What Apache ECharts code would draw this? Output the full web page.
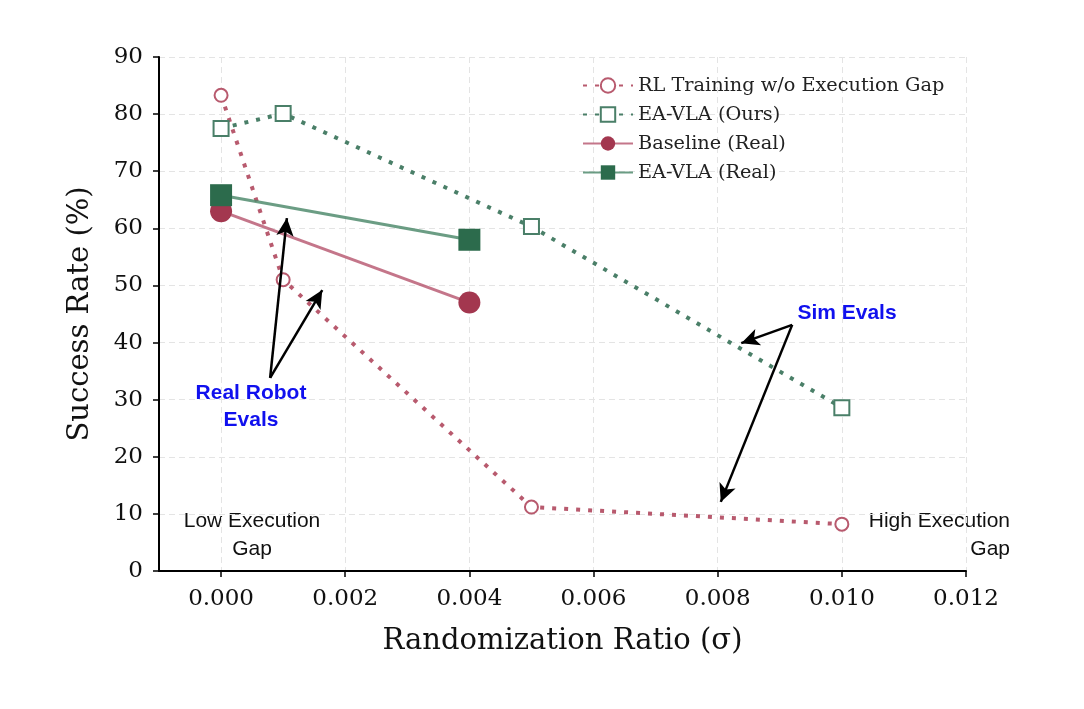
<!DOCTYPE html>
<html>
<head>
<meta charset="utf-8">
<script src="https://cdn.jsdelivr.net/npm/echarts@6/dist/echarts.min.js"></script>
<style>
  html, body { margin: 0; padding: 0; background: #fff; }
  #chart { width: 1084px; height: 709px; }
</style>
</head>
<body>
<div id="chart"></div>
<script>
// data
const xTicks = [0, 0.002, 0.004, 0.006, 0.008, 0.010, 0.012];
const yTicks = [0, 10, 20, 30, 40, 50, 60, 70, 80, 90];

const rlX = [0, 0.001, 0.005, 0.010];
const rlY = [83.3, 51.0, 11.2, 8.2];
const oursX = [0, 0.001, 0.005, 0.010];
const oursY = [77.5, 80.1, 60.3, 28.6];
const baseRealX = [0, 0.004];
const baseRealY = [63.0, 47.0];
const oursRealX = [0, 0.004];
const oursRealY = [65.8, 58.0];

// annotation arrows in data units: [from, to]
const realArrows = [[[0.00079, 33.8], [0.00106, 61.8]], [[0.00079, 33.8], [0.00163, 49.2]]];
const simArrows = [[[0.0092, 43.1], [0.00838, 39.9]], [[0.0092, 43.1], [0.00805, 12.1]]];

const pair = (xs, ys) => xs.map((x, i) => [x, ys[i]]);

const RED = '#b85a6e', RED_DARK = '#a3374f';
const GRN = '#4a7f68', GRN_DARK = '#2c6b4c';
const serif = 'DejaVu Serif';
const sans = 'Liberation Sans';

const chart = echarts.init(document.getElementById('chart'));

const arrowLines = realArrows.concat(simArrows).map(a => [
  { coord: a[0] }, { coord: a[1] }
]);

chart.setOption({
  animation: false,
  backgroundColor: '#fff',
  grid: { left: 159, right: 118, top: 57, bottom: 138 },
  legend: {
    orient: 'vertical',
    left: 577,
    top: 71,
    itemWidth: 50,
    itemHeight: 18,
    itemGap: 10,
    textStyle: { fontFamily: serif, fontSize: 19.3, color: '#222' },
    data: ['RL Training w/o Execution Gap', 'EA-VLA (Ours)', 'Baseline (Real)', 'EA-VLA (Real)']
  },
  xAxis: {
    type: 'value',
    min: -0.001,
    max: 0.012,
    name: 'Randomization Ratio (σ)',
    nameLocation: 'middle',
    nameGap: 56,
    nameTextStyle: { fontFamily: serif, fontSize: 29, color: '#111' },
    axisLine: { show: true, onZero: false, lineStyle: { color: '#000', width: 2 } },
    axisTick: { show: true, length: 6, customValues: xTicks, lineStyle: { color: '#000', width: 1.5 } },
    axisLabel: {
      customValues: xTicks,
      fontFamily: serif, fontSize: 23, color: '#111', margin: 17,
      formatter: v => v.toFixed(3)
    },
    splitLine: { show: true, lineStyle: { color: '#e4e4e4', type: [6, 4], width: 1 } }
  },
  yAxis: {
    type: 'value',
    min: 0,
    max: 90,
    interval: 10,
    name: 'Success Rate (%)',
    nameLocation: 'middle',
    nameGap: 64,
    nameTextStyle: { fontFamily: serif, fontSize: 29, color: '#111' },
    axisLine: { show: true, onZero: false, lineStyle: { color: '#000', width: 2 } },
    axisTick: { show: true, length: 6, lineStyle: { color: '#000', width: 1.5 } },
    axisLabel: {
      fontFamily: serif, fontSize: 23, color: '#111', margin: 16,
      formatter: v => (yTicks.includes(v) ? String(v) : '')
    },
    splitLine: { show: true, lineStyle: { color: '#e4e4e4', type: [6, 4], width: 1 } }
  },
  series: [
    {
      name: 'RL Training w/o Execution Gap',
      type: 'line',
      data: pair(rlX, rlY),
      symbol: 'emptyCircle',
      symbolSize: 13,
      z: 3,
      lineStyle: { color: RED, width: 4, type: [4, 8] },
      itemStyle: { color: RED, borderWidth: 3 }
    },
    {
      name: 'EA-VLA (Ours)',
      type: 'line',
      data: pair(oursX, oursY),
      symbol: 'emptyRect',
      symbolSize: 15,
      z: 3,
      lineStyle: { color: GRN, width: 4, type: [4, 8] },
      itemStyle: { color: GRN, borderWidth: 3 }
    },
    {
      name: 'Baseline (Real)',
      type: 'line',
      data: pair(baseRealX, baseRealY),
      symbol: 'circle',
      symbolSize: 22,
      z: 4,
      lineStyle: { color: 'rgba(180,80,105,0.78)', width: 3 },
      itemStyle: { color: RED_DARK }
    },
    {
      name: 'EA-VLA (Real)',
      type: 'line',
      data: pair(oursRealX, oursRealY),
      symbol: 'rect',
      symbolSize: 22,
      z: 5,
      lineStyle: { color: 'rgba(74,135,105,0.82)', width: 3 },
      itemStyle: { color: GRN_DARK }
    },
    {
      name: 'annotations',
      type: 'line',
      data: [],
      silent: true,
      z: 6,
      markLine: {
        silent: true,
        symbol: ['none', 'arrow'],
        symbolSize: [13, 18],
        label: { show: false },
        lineStyle: { color: '#000', width: 2.5, type: 'solid' },
        data: arrowLines
      }
    }
  ],
  graphic: [
    {
      type: 'text', x: 251, y: 380,
      style: { text: 'Real Robot\nEvals', fontFamily: sans, fontWeight: 'bold', fontSize: 21, lineHeight: 27, fill: '#1010ee', align: 'center' }
    },
    {
      type: 'text', x: 847, y: 303,
      style: { text: 'Sim Evals', fontFamily: sans, fontWeight: 'bold', fontSize: 21, fill: '#1010ee', align: 'center' }
    },
    {
      type: 'text', x: 252, y: 507,
      style: { text: 'Low Execution\nGap', fontFamily: sans, fontSize: 21, lineHeight: 28, fill: '#111', align: 'center' }
    },
    {
      type: 'text', x: 1010, y: 507,
      style: { text: 'High Execution\nGap', fontFamily: sans, fontSize: 21, lineHeight: 28, fill: '#111', align: 'right' }
    }
  ]
});
</script>
</body>
</html>
